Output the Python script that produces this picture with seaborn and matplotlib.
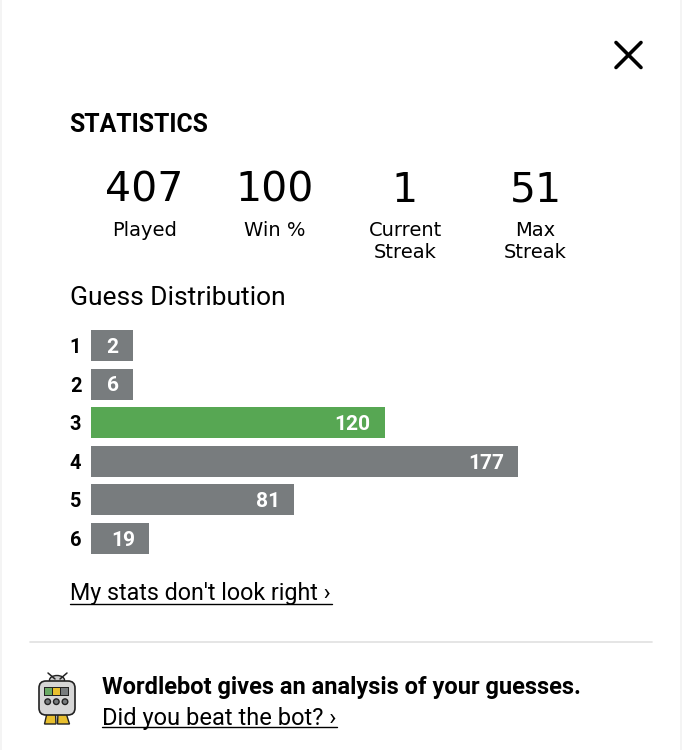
import matplotlib
matplotlib.use("Agg")
import matplotlib.pyplot as plt
from matplotlib.patches import FancyBboxPatch, Rectangle, Circle, Ellipse, Polygon
import pandas as pd
import seaborn as sns

guesses = ["1", "2", "3", "4", "5", "6"]
counts = [2, 6, 120, 177, 81, 19]
highlight = "3"
stat_values = ["407", "100", "1", "51"]
stat_labels = ["Played", "Win %", "Current\nStreak", "Max\nStreak"]

GRAY, GREEN = "#787c7e", "#57a753"
FONT = "Liberation Sans"
W, H = 682, 750

sns.set_theme(style="white")
plt.rcParams["font.family"] = [FONT, "DejaVu Sans"]
pt = 0.72  # px -> pt at dpi 100

fig = plt.figure(figsize=(W / 100, H / 100), dpi=100, facecolor="white")

# page layer in pixel coordinates
bg = fig.add_axes([0, 0, 1, 1])
bg.set_xlim(0, W); bg.set_ylim(H, 0); bg.axis("off")
bg.add_patch(Rectangle((0, 0), 2, H, color="#f4f4f4", lw=0))
bg.add_patch(Rectangle((680, 0), 2, H, color="#f4f4f4", lw=0))
bg.plot([616, 641], [42.5, 67.5], color="black", lw=2.6, solid_capstyle="round")
bg.plot([616, 641], [67.5, 42.5], color="black", lw=2.6, solid_capstyle="round")

bg.text(69.5, 125, "STATISTICS", fontsize=24.7 * pt, fontweight="bold", va="center", ha="left",
        family="Roboto", color="black")

centers = [144.5, 275, 405, 535.5]
for cx, v, l in zip(centers, stat_values, stat_labels):
    bg.text(cx, 191, v, fontsize=41 * pt, ha="center", va="center", color="black", family="DejaVu Sans")
    bg.text(cx, 220.5, l, fontsize=19.5 * pt, ha="center", va="top", color="black", linespacing=1.25, family="DejaVu Sans")

bg.text(69.5, 298, "Guess Distribution", fontsize=26.4 * pt, ha="left", va="center", color="black", family="Roboto")

# link lines
bg.text(70, 593.5, "My stats don't look right ›", fontsize=23.3 * pt, ha="left", va="center", color="black", family="Roboto")
bg.plot([70, 332], [603.5, 603.5], color="black", lw=1.0)
bg.plot([30, 652], [642, 642], color="#e0e0e0", lw=1.2)
bg.text(102, 687.5, "Wordlebot gives an analysis of your guesses.", fontsize=23.6 * pt, fontweight="bold",
        ha="left", va="center", color="black", family="Roboto")
bg.text(102, 718, "Did you beat the bot? ›", fontsize=23.6 * pt, ha="left", va="center", color="black", family="Roboto")
bg.plot([102, 337], [727, 727], color="black", lw=1.0)

# Wordlebot icon
for xs in ([48, 55], [67, 60]):
    bg.plot(xs, [673, 679], color="#222222", lw=1.1)
bg.add_patch(Ellipse((57, 680), 15, 9, fc="#c9c9c9", ec="#222222", lw=1))
bg.add_patch(Polygon([(44.5, 724), (47, 713), (55.5, 713), (56, 724)], fc="#e8bf2f", ec="#222222", lw=1))
bg.add_patch(Polygon([(57.5, 724), (58, 713), (66, 713), (69.5, 724)], fc="#e8bf2f", ec="#222222", lw=1))
bg.add_patch(FancyBboxPatch((42, 684), 30, 28, boxstyle="round,pad=3,rounding_size=7", fc="#d6d6d6", ec="#222222", lw=1.2))
bg.add_patch(Rectangle((44, 687), 25, 9, fc="#222222", lw=0))
for x0, c in [(45, "#6aaa64"), (53, "#e9c02f"), (61, "#787c7e")]:
    bg.add_patch(Rectangle((x0, 688), 7.2, 7, fc=c, lw=0))
for cx in (47.7, 56.3, 65):
    bg.add_patch(Circle((cx, 701.7), 2.8, fc="#787c7e", ec="#222222", lw=1))

# bars: Wordle pads each bar and enforces a minimum width
px_per_count = 2.335
pad, min_len = 6, 18
df = pd.DataFrame({"guess": guesses, "count": counts})
df["length"] = [max(c + pad, min_len) for c in counts]

ax_top, ax_bot = 326.2, 557.8
ax_left, ax_w = 91, 520
ax = fig.add_axes([ax_left / W, 1 - ax_bot / H, ax_w / W, (ax_bot - ax_top) / H], facecolor="none")
palette = {g: (GREEN if g == highlight else GRAY) for g in guesses}
sns.barplot(data=df, y="guess", x="length", hue="guess", palette=palette, order=guesses,
            dodge=False, legend=False, width=0.8, saturation=1, linewidth=0, ax=ax)
ax.set_xlim(0, ax_w / px_per_count)
ax.set_xlabel(""); ax.set_ylabel("")
ax.set_xticks([])
ax.tick_params(axis="y", length=0, pad=7)
for lab in ax.get_yticklabels():
    lab.set_fontsize(20 * pt); lab.set_fontweight("bold"); lab.set_color("black"); lab.set_family("Roboto")
sns.despine(ax=ax, left=True, bottom=True)
for i, row in df.iterrows():
    ax.text(row["length"] - 14.5 / px_per_count, i + 0.045, str(row["count"]), color="white", fontweight="bold",
            fontsize=21 * pt, ha="right", va="center", family="Roboto")

fig.savefig("out.png", dpi=100, facecolor="white")
